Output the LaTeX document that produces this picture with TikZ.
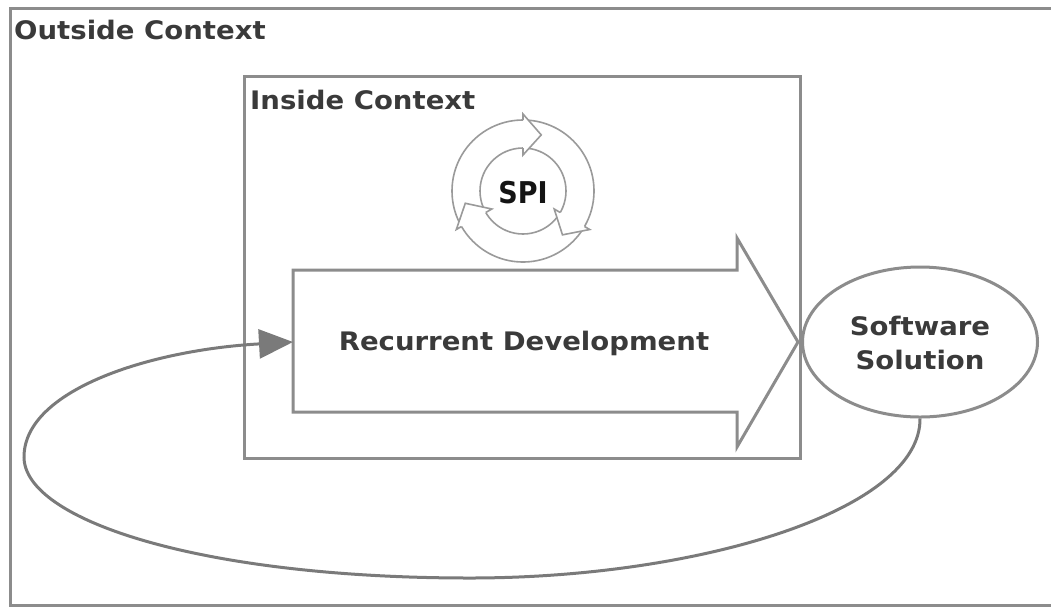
\documentclass[tikz,border=0pt]{standalone}
\usepackage{fontspec}
\setmainfont{DejaVu Sans}[FakeStretch=1.08]
\newfontfamily\spifont{DejaVu Sans}[FakeStretch=0.9]
\usetikzlibrary{arrows.meta,shapes.geometric}
\definecolor{linegray}{HTML}{8C8C8C}
\definecolor{ringgray}{HTML}{9A9A9A}
\definecolor{textgray}{HTML}{3A3A3A}
\definecolor{headgray}{HTML}{7A7A7A}
\tikzset{
  frame/.style={draw=linegray, line width=3pt},
  title/.style={anchor=base west, inner sep=0pt, font=\bfseries\fontsize{25.5}{30}\selectfont, text=textgray},
  label/.style={align=center, inner sep=0pt, font=\bfseries\fontsize{25.5}{34}\selectfont, text=textgray},
  ring/.style={draw=ringgray, line width=1.6pt},
  loopline/.style={draw=linegray, line width=3pt, -{Triangle[length=34pt,width=29pt]}, headgray},
}
\begin{document}
\begin{tikzpicture}[x=1pt,y=-1pt]
\useasboundingbox (0,0) rectangle (1051,606);
% outside context
\draw[frame] (10,8) rectangle (1065,605);
\node[title] (outside) at (14,39) {Outside Context};
% inside context
\draw[frame] (244,76) rectangle (800,458);
\node[title] (inside) at (250,109) {Inside Context};
% SPI cycle
\coordinate (spic) at (523,191);
\draw[ring, fill=white] (spic) circle[radius=71pt];
\draw[ring] (spic) circle[radius=43pt];
\foreach \b in {90,-30,210}{
  \pgfmathsetmacro\t{\b-18}
  \fill[white] ([shift={(spic)}]\b:77pt) -- ([shift={(spic)}]\t:59pt) -- ([shift={(spic)}]\b:36pt) -- cycle;
  \draw[ring, line join=miter] ([shift={(spic)}]\b:71pt) -- ([shift={(spic)}]\b:77pt) -- ([shift={(spic)}]\t:59pt) -- ([shift={(spic)}]\b:36pt) -- ([shift={(spic)}]\b:43pt);
}
\node[inner sep=0pt, font=\spifont\bfseries\fontsize{30}{32}\selectfont, text=black!92] (spi) at (523,193) {SPI};
% big arrow
\draw[frame, fill=white, line join=miter] (293,270) -- (737,270) -- (737,238) -- (798,342) -- (737,447) -- (737,412) -- (293,412) -- cycle;
\coordinate (rdin) at (293,342);
\node[label] (rd) at (524,343) {Recurrent Development};
% software solution
\node[ellipse, draw=linegray, line width=3pt, minimum width=235pt, minimum height=150pt, inner sep=0pt, fill=white] (sol) at (920,342) {};
\node[label] (soltext) at (920,343) {Software\\Solution};
% loop connector
\draw[loopline] (sol.south) .. controls (921,510) and (700,578) .. (470,578)
  .. controls (200,578) and (24,520) .. (24,457)
  .. controls (24,390) and (150,350) .. (rdin);
\end{tikzpicture}
\end{document}
